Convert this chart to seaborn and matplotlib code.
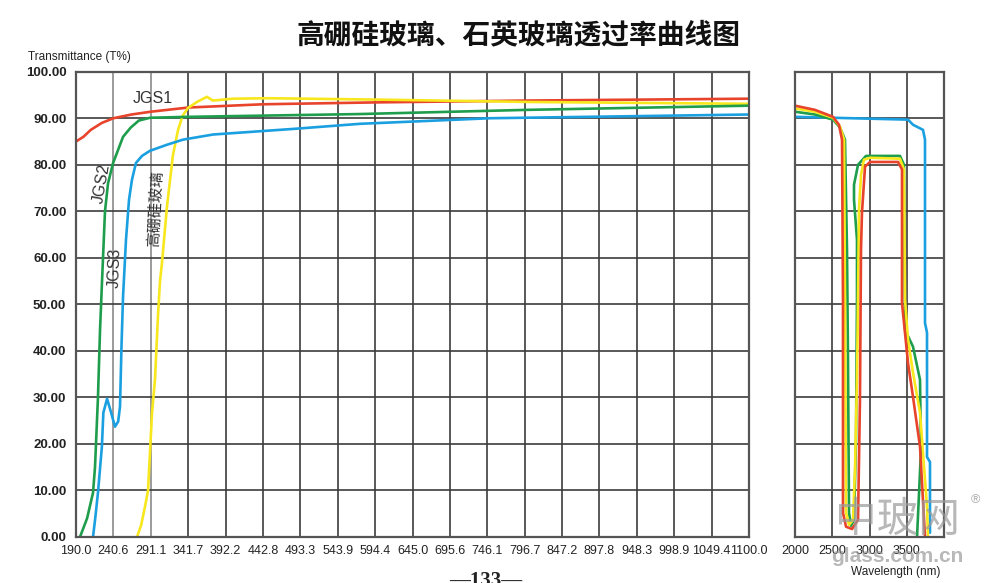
import numpy as np
import pandas as pd
import matplotlib
matplotlib.use("Agg")
import matplotlib.pyplot as plt
import seaborn as sns

sns.set_style("white")
plt.rcParams["font.family"] = ["Liberation Sans", "Noto Sans CJK SC", "DejaVu Sans"]

# ---- data: left panel (190-1100 nm) ----
jgs1_x = [190, 200, 210, 225, 240.6, 265, 291, 341.7, 442.8, 594, 800, 1100]
jgs1_y = [85.0, 86.0, 87.5, 89.0, 90.0, 90.8, 91.4, 92.3, 93.0, 93.4, 93.8, 94.2]

jgs2_x = [195.4, 205, 213, 215.7, 219.7, 222.5, 225.2, 229.2, 233.3, 240, 253.6, 264, 275, 290, 341.7, 574, 800, 1100]
jgs2_y = [0.0, 4.0, 9.5, 15.0, 30.0, 44.5, 55.0, 70.0, 76.0, 80.3, 86.0, 88.0, 89.5, 90.1, 90.3, 90.9, 91.8, 92.7]

jgs3_x = [213, 216, 219.7, 225, 227, 232, 237, 242.7, 247, 249.5, 251.5, 253.6, 257.6, 261.7, 265.7, 271.1, 279.2,
          290, 313, 334.7, 375.3, 483.4, 574, 750, 1100]
jgs3_y = [0.0, 4.0, 9.5, 19.4, 26.7, 29.7, 27.0, 23.7, 24.8, 28.0, 40.9, 51.6, 63.9, 72.5, 76.8, 80.4, 81.9,
          83.0, 84.3, 85.4, 86.5, 87.7, 88.8, 90.0, 90.8]

boro_x = [272.5, 278, 283.3, 287.4, 292.8, 296.8, 301, 303.6, 306.3, 313, 321, 328, 334, 341.4, 353.6, 367, 375, 402,
          450, 600, 800, 1100]
boro_y = [0.0, 2.5, 6.5, 10.0, 26.7, 33.8, 48.0, 55.0, 59.0, 71.0, 82.0, 87.5, 90.5, 92.2, 93.5, 94.6, 93.8, 94.2,
          94.3, 94.0, 93.5, 93.1]

# ---- data: right panel (2000-4000 nm) ----
r_red_x = [2000, 2268, 2510, 2590, 2631, 2644, 2644, 2685, 2765, 2846, 2872, 2886, 2899, 2940, 3007, 3383, 3436,
           3436, 3517, 3584, 3678, 3745]
r_red_y = [92.7, 91.8, 90.3, 88.6, 85.4, 51.0, 5.2, 2.2, 1.7, 3.7, 29.5, 61.7, 69.7, 79.6, 80.6, 80.6, 79.0,
           50.3, 37.4, 30.1, 19.4, 0.0]

r_green_x = [2000, 2268, 2510, 2604, 2671, 2698, 2711, 2725, 2752, 2792, 2819, 2832, 2832, 2792, 2792, 2846, 2953,
             3409, 3463, 3477, 3584, 3678, 3691, 3638]
r_green_y = [91.4, 90.8, 89.7, 88.0, 85.4, 61.7, 38.7, 5.2, 2.4, 3.7, 20.9, 51.0, 63.9, 72.5, 75.7, 80.0, 81.9,
             81.9, 80.0, 44.5, 40.9, 33.8, 18.7, 0.0]

r_yellow_x = [2000, 2268, 2510, 2604, 2658, 2671, 2685, 2725, 2779, 2805, 2832, 2846, 2859, 2886, 2926, 3007, 3409,
              3463, 3477, 3517, 3584, 3678, 3772, 3785]
r_yellow_y = [92.1, 91.4, 90.1, 88.2, 85.4, 51.0, 5.2, 2.6, 3.7, 14.4, 33.8, 51.0, 70.3, 77.8, 81.1, 81.5, 81.3,
              79.0, 51.0, 42.4, 35.3, 26.7, 6.5, 0.0]

r_blue_x = [2000, 2510, 3007, 3517, 3584, 3718, 3745, 3745, 3772, 3772, 3812, 3812]
r_blue_y = [90.3, 90.1, 89.9, 89.7, 88.6, 87.5, 85.4, 46.0, 43.9, 17.2, 16.1, 0.9]

left_ticks = [190.0, 240.6, 291.1, 341.7, 392.2, 442.8, 493.3, 543.9, 594.4, 645.0, 695.6, 746.1, 796.7,
              847.2, 897.8, 948.3, 998.9, 1049.4, 1100.0]
right_ticks = [2000, 2500, 3000, 3500, 4000]
right_labels = ["2000", "2500", "3000", "3500", ""]
y_ticks = [0, 10, 20, 30, 40, 50, 60, 70, 80, 90, 100]

RED = "#e8432b"
GREEN = "#1e9e4c"
BLUE = "#1aa0e0"
YELLOW = "#f7e71c"
GRID = "#3c3c3c"

fig = plt.figure(figsize=(10, 5.83), dpi=100)
ax1 = fig.add_axes([0.076, 0.079, 0.673, 0.798])
ax2 = fig.add_axes([0.795, 0.079, 0.149, 0.798])

lw = 1.9
for ax in (ax1, ax2):
    ax.set_ylim(0, 100)
    ax.set_yticks(y_ticks)
    ax.grid(True, color=GRID, lw=1.2)
    ax.set_axisbelow(True)
    for s in ax.spines.values():
        s.set_color("#555555")
        s.set_linewidth(1.6)
    ax.tick_params(length=0)
    ax.set_xlabel("")
    ax.set_ylabel("")

# left panel curves
sns.lineplot(x=jgs1_x, y=jgs1_y, ax=ax1, color=RED, lw=lw, sort=False, estimator=None)
sns.lineplot(x=boro_x, y=boro_y, ax=ax1, color=YELLOW, lw=lw, sort=False, estimator=None)
sns.lineplot(x=jgs2_x, y=jgs2_y, ax=ax1, color=GREEN, lw=lw, sort=False, estimator=None)
sns.lineplot(x=jgs3_x, y=jgs3_y, ax=ax1, color=BLUE, lw=lw, sort=False, estimator=None)
ax1.set_xlim(190, 1100)
ax1.set_xticks(left_ticks)
ax1.set_xticklabels([f"{t:.1f}" for t in left_ticks], fontsize=9, color="#222222")
ax1.set_yticklabels([f"{t:.2f}" for t in y_ticks], fontsize=9.5, fontweight="bold", color="#222222")
ax1.tick_params(axis="x", pad=6)
ax1.tick_params(axis="y", pad=7)
for i, gl in enumerate(ax1.get_xgridlines()):
    if i in (1, 2):
        gl.set_color("#8a8a8a")

# right panel curves
sns.lineplot(x=r_blue_x, y=r_blue_y, ax=ax2, color=BLUE, lw=lw, sort=False, estimator=None)
sns.lineplot(x=r_green_x, y=r_green_y, ax=ax2, color=GREEN, lw=lw, sort=False, estimator=None)
sns.lineplot(x=r_yellow_x, y=r_yellow_y, ax=ax2, color=YELLOW, lw=lw, sort=False, estimator=None)
sns.lineplot(x=r_red_x, y=r_red_y, ax=ax2, color=RED, lw=lw, sort=False, estimator=None)
ax2.set_xlim(2000, 4000)
ax2.set_xticks(right_ticks)
ax2.set_xticklabels(right_labels, fontsize=9, color="#222222")
ax2.set_yticklabels([])
ax2.tick_params(axis="x", pad=6)

# curve labels
lab = dict(color="#333333", fontsize=11.5, family=["Liberation Sans", "Noto Sans CJK SC"])
ax1.text(267, 94.2, "JGS1", ha="left", va="center", **lab)
ax1.text(225, 76.0, "JGS2", ha="center", va="center", rotation=80, **lab)
ax1.text(243, 57.8, "JGS3", ha="center", va="center", rotation=88, **lab)
ax1.text(297, 70.5, "高硼硅玻璃", ha="center", va="center", rotation=87,
         color="#333333", fontsize=11, family=["Noto Sans CJK SC", "DejaVu Sans"])

# titles and axis captions
fig.text(0.518, 0.94, "高硼硅玻璃、石英玻璃透过率曲线图", ha="center", va="center",
         fontsize=20, fontweight="bold", family=["Noto Sans CJK SC", "DejaVu Sans"], color="#111111")
fig.text(0.028, 0.902, "Transmittance (T%)", ha="left", va="center", fontsize=8.5, color="#222222")
fig.text(0.896, 0.019, "Wavelength (nm)", ha="center", va="center", fontsize=8.5, color="#222222")
fig.text(0.486, 0.004, "\u2014133\u2014", ha="center", va="center", fontsize=15, fontweight="bold",
         family=["Liberation Serif", "DejaVu Serif"], color="#222222")

# watermark
fig.text(0.897, 0.108, "中玻网", ha="center", va="center", fontsize=30, color="#9a9a9a", alpha=0.7,
         family=["Noto Sans CJK SC", "DejaVu Sans"])
fig.text(0.897, 0.046, "glass.com.cn", ha="center", va="center", fontsize=15, fontweight="bold",
         color="#9a9a9a", alpha=0.7)
fig.text(0.975, 0.143, "®", ha="center", va="center", fontsize=9, color="#aaaaaa")

fig.savefig("out.png", dpi=100)
